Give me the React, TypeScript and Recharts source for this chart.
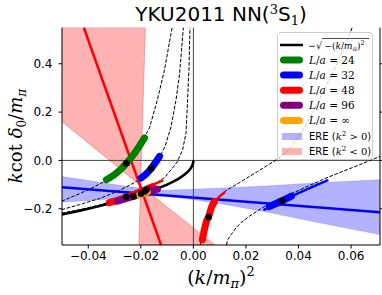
import React from 'react';
import {
  ComposedChart,
  Line,
  Area,
  Scatter,
  XAxis,
  YAxis,
  ReferenceLine,
} from 'recharts';

// -sqrt(-(k/m)^2) bound-state curve
const boundCurve: [number, number][] = [
  [-0.05, -0.224], [-0.045, -0.212], [-0.04, -0.2], [-0.035, -0.187],
  [-0.03, -0.173], [-0.025, -0.158], [-0.02, -0.141], [-0.015, -0.122],
  [-0.01, -0.1], [-0.007, -0.084], [-0.005, -0.071], [-0.003, -0.055],
  [-0.002, -0.045], [-0.001, -0.032], [-0.0004, -0.02], [-0.0001, -0.01], [0, 0],
];

// finite volume (Luscher) curves, dashed
const luscher24: [number, number][] = [
  [-0.0502, -0.169], [-0.0434, -0.138], [-0.0377, -0.109], [-0.032, -0.076],
  [-0.0282, -0.038], [-0.0255, -0.012], [-0.0225, 0.028], [-0.0198, 0.073],
  [-0.0167, 0.135], [-0.0137, 0.251], [-0.011, 0.375], [-0.0081, 0.55],
];
const luscher32: [number, number][] = [
  [-0.0502, -0.204], [-0.0434, -0.183], [-0.0358, -0.158], [-0.0282, -0.125],
  [-0.0225, -0.092], [-0.0198, -0.074], [-0.0164, -0.034], [-0.0129, 0.012],
  [-0.0107, 0.061], [-0.0085, 0.14], [-0.0066, 0.251], [-0.0053, 0.354], [-0.0038, 0.55],
];
const luscher48: [number, number][] = [
  [-0.0502, -0.218], [-0.0434, -0.204], [-0.0358, -0.185], [-0.0282, -0.16],
  [-0.0206, -0.129], [-0.0148, -0.1], [-0.011, -0.071], [-0.0084, -0.038],
  [-0.0061, -0.005], [-0.0041, 0.044], [-0.0028, 0.114], [-0.0022, 0.251],
  [-0.0017, 0.375], [-0.0013, 0.55],
];
const luscher48Pos: [number, number][] = [
  [0.00266, -0.348], [0.00342, -0.319], [0.00495, -0.253], [0.00685, -0.195],
  [0.00913, -0.162], [0.0118, -0.129], [0.0175, -0.092], [0.0244, -0.046],
  [0.0316, 0.003], [0.0365, 0.044], [0.0422, 0.135], [0.0479, 0.251],
  [0.0536, 0.375], [0.0594, 0.519], [0.0605, 0.552],
];
const luscher32Pos: [number, number][] = [
  [0.01256, -0.35], [0.01305, -0.328], [0.01435, -0.307], [0.01625, -0.278],
  [0.01815, -0.257], [0.0213, -0.231], [0.02637, -0.195], [0.03147, -0.165],
  [0.03779, -0.135], [0.0505, -0.073], [0.06317, -0.018], [0.06952, 0.01], [0.0712, 0.017],
];

// effective range expansion fits
const ereLine: [number, number][] = [[-0.05, -0.111], [0.071, -0.215]];
const ereBand: [number, number, number][] = [
  [-0.05, -0.173, -0.067], [-0.0358, -0.163, -0.09], [-0.0244, -0.152, -0.109],
  [-0.0167, -0.146, -0.119], [-0.011, -0.148, -0.123], [0, -0.162, -0.119],
  [0.0137, -0.185, -0.113], [0.0289, -0.216, -0.105], [0.0479, -0.258, -0.092],
  [0.071, -0.307, -0.08],
];
const ereNegLine: [number, number][] = [[-0.0417, 0.55], [-0.0123, -0.35]];
const ereNegUpper: [number, number, number][] = [
  [-0.05, 0.16, 0.55], [-0.0201, -0.105, 0.55], [-0.01826, 0.55, 0.55],
];
const ereNegLower: [number, number, number][] = [
  [-0.0208, -0.35, -0.35], [-0.0201, -0.35, -0.105], [0.0083, -0.35, -0.35],
];

// lattice results (thick = stat, thin = total)
const l24Band: [number, number][] = [
  [-0.0331, -0.08], [-0.0301, -0.059], [-0.0274, -0.034], [-0.0255, -0.012],
  [-0.0225, 0.028], [-0.0186, 0.093],
];
const l32Band: [number, number][] = [
  [-0.0199, -0.073], [-0.0179, -0.055], [-0.0161, -0.034], [-0.0145, -0.01], [-0.0129, 0.017],
];
const l32PosBand: [number, number][] = [[0.0289, -0.191], [0.0338, -0.167], [0.0373, -0.148]];
const l32PosThin: [number, number][] = [[0.027, -0.204], [0.0338, -0.167], [0.051, -0.083]];
const l48Band: [number, number][] = [[-0.032, -0.175], [-0.0243, -0.148], [-0.0156, -0.109]];
const l48Thin: [number, number][] = [[-0.0205, -0.125], [-0.0118, -0.084]];
const l48PosBand: [number, number][] = [
  [0.00342, -0.328], [0.00419, -0.286], [0.00495, -0.253], [0.00582, -0.233],
  [0.00685, -0.195], [0.00799, -0.171],
];
const l48PosThin: [number, number][] = [[0.00799, -0.171], [0.00989, -0.15], [0.0118, -0.133]];
const l96Band: [number, number][] = [[-0.0289, -0.169], [-0.0137, -0.119]];
const lInfBand: [number, number][] = [[-0.0205, -0.144], [-0.0175, -0.129]];
const centralValues: [number, number][] = [
  [-0.0255, -0.012], [-0.0161, -0.034], [-0.0256, -0.151], [-0.0228, -0.149],
  [-0.0199, -0.138], [-0.0186, -0.129], [-0.0178, -0.121], [0.0058, -0.234],
  [0.0338, -0.167],
];

const xTicks = [-0.04, -0.02, 0, 0.02, 0.04, 0.06];
const yTicks = [-0.2, 0, 0.2, 0.4];

const legendLines = [
  { label: '24', color: 'green' },
  { label: '32', color: 'blue' },
  { label: '48', color: 'red' },
  { label: '96', color: 'purple' },
  { label: '\u221e', color: 'orange' },
];

const pts = (a: [number, number][]) => a.map(([x, y]) => ({ x, y }));
const rng = (a: [number, number, number][]) => a.map(([x, lo, hi]) => ({ x, r: [lo, hi] }));

const fmt = (d: number) => (v: number) =>
  (v < 0 ? '\u2212' : '') + Math.abs(v).toFixed(d);

const tickFont = { fill: '#000', fontSize: 12, fontFamily: 'DejaVu Sans' };
const serif = 'DejaVu Serif';

const Overlay = () => (
  <svg
    width={382}
    height={295}
    style={{ position: 'absolute', left: 0, top: 0, pointerEvents: 'none' }}
  >
    <text x={221} y={21} textAnchor="middle" fontFamily="DejaVu Sans" fontSize={20}>
      YKU2011 NN(<tspan dy={-7} fontSize={13} fontFamily={serif}>3</tspan>
      <tspan dy={7}>S</tspan>
      <tspan dy={4} fontSize={13} fontFamily={serif}>1</tspan>
      <tspan dy={-4}>)</tspan>
    </text>
    <text x={221} y={284} textAnchor="middle" fontFamily={serif} fontSize={19}>
      (<tspan fontStyle="italic">k</tspan>/<tspan fontStyle="italic">m</tspan>
      <tspan dy={4} fontSize={13} fontStyle="italic">π</tspan>
      <tspan dy={-4}>)</tspan>
      <tspan dy={-8} fontSize={13}>2</tspan>
    </text>
    <text
      transform="translate(22,136) rotate(-90)"
      textAnchor="middle"
      fontFamily={serif}
      fontSize={18}
    >
      <tspan fontStyle="italic">k</tspan>cot <tspan fontStyle="italic">δ</tspan>
      <tspan dy={4} fontSize={12}>0</tspan>
      <tspan dy={-4}>/</tspan>
      <tspan fontStyle="italic">m</tspan>
      <tspan dy={4} fontSize={12} fontStyle="italic">π</tspan>
    </text>

    {/* legend */}
    <rect x={277.5} y={32.5} width={95} height={127} rx={3} fill="#fff" fillOpacity={0.8} stroke="#ccc" />
    <line x1={280} x2={303} y1={45} y2={45} stroke="#000" strokeWidth={2.5} />
    <text x={308} y={48.5} fontFamily={serif} fontSize={9.5}>−√</text>
    <line x1={322} x2={369} y1={38.5} y2={38.5} stroke="#000" strokeWidth={0.7} />
    <text x={324.5} y={48.5} fontFamily={serif} fontSize={9}>
      −(<tspan fontStyle="italic">k</tspan>/<tspan fontStyle="italic">m</tspan>
      <tspan dy={2.5} fontSize={6.5} fontStyle="italic">π</tspan>
      <tspan dy={-2.5}>)</tspan>
      <tspan dy={-4} fontSize={6.5}>2</tspan>
    </text>
    {legendLines.map((d, i) => {
      const y = 60 + i * 15.1;
      return (
        <g key={d.label}>
          <line x1={283.5} x2={299.5} y1={y} y2={y} stroke={d.color} strokeWidth={7} strokeLinecap="round" />
          <text x={309} y={y + 3.5} fontFamily={serif} fontSize={10.5}>
            <tspan fontStyle="italic">L</tspan>/<tspan fontStyle="italic">a</tspan> = {d.label}
          </text>
        </g>
      );
    })}
    <rect x={282} y={133} width={20} height={7} fill="blue" fillOpacity={0.3} />
    <text x={309} y={140} fontFamily="DejaVu Sans" fontSize={10}>
      ERE (<tspan fontFamily={serif} fontStyle="italic">k</tspan>
      <tspan dy={-4} fontSize={7} fontFamily={serif}>2</tspan>
      <tspan dy={4} fontFamily={serif}> &gt; 0</tspan>)
    </text>
    <rect x={282} y={148} width={20} height={7} fill="red" fillOpacity={0.3} />
    <text x={309} y={155} fontFamily="DejaVu Sans" fontSize={10}>
      ERE (<tspan fontFamily={serif} fontStyle="italic">k</tspan>
      <tspan dy={-4} fontSize={7} fontFamily={serif}>2</tspan>
      <tspan dy={4} fontFamily={serif}> &lt; 0</tspan>)
    </text>
  </svg>
);

const dashed = (d: [number, number][], key: string) => (
  <Line
    key={key}
    data={pts(d)}
    dataKey="y"
    type="linear"
    stroke="#000"
    strokeWidth={1}
    strokeDasharray="3.7 1.6"
    dot={false}
    isAnimationActive={false}
  />
);

const band = (d: [number, number][], color: string, w: number, key: string) => (
  <Line
    key={key}
    data={pts(d)}
    dataKey="y"
    type="monotone"
    stroke={color}
    strokeWidth={w}
    strokeLinecap="round"
    dot={false}
    isAnimationActive={false}
  />
);

const App = () => {
  return (
    <div style={{ position: 'absolute', left: 0, top: 0, width: 382, height: 295 }}>
      <ComposedChart width={382} height={295} margin={{ top: 27.5, right: 0, bottom: 0, left: 0 }}>
        <XAxis
          dataKey="x"
          type="number"
          domain={[-0.05, 0.071]}
          allowDataOverflow
          ticks={xTicks}
          tickFormatter={fmt(2)}
          tickSize={3.5}
          tickMargin={3}
          height={50}
          stroke="#000"
          tick={tickFont}
        />
        <XAxis
          xAxisId="top"
          orientation="top"
          type="number"
          domain={[-0.05, 0.071]}
          allowDataOverflow
          ticks={xTicks}
          tickSize={3.5}
          height={0}
          stroke="#000"
          tick={() => <g />}
        />
        <YAxis
          dataKey="y"
          type="number"
          domain={[-0.35, 0.55]}
          allowDataOverflow
          ticks={yTicks}
          tickFormatter={fmt(1)}
          tickSize={3.5}
          tickMargin={6}
          width={62}
          stroke="#000"
          tick={tickFont}
        />
        <YAxis
          yAxisId="right"
          orientation="right"
          type="number"
          domain={[-0.35, 0.55]}
          allowDataOverflow
          ticks={yTicks}
          tickSize={3.5}
          width={2}
          stroke="#000"
          tick={() => <g />}
        />

        <Area
          data={rng(ereBand)}
          dataKey="r"
          type="linear"
          fill="blue"
          fillOpacity={0.3}
          stroke="blue"
          strokeOpacity={0.25}
          strokeWidth={0.6}
          isAnimationActive={false}
        />
        <Area
          data={rng(ereNegUpper)}
          dataKey="r"
          type="linear"
          fill="red"
          fillOpacity={0.3}
          stroke="#a00"
          strokeOpacity={0.35}
          strokeWidth={0.7}
          isAnimationActive={false}
        />
        <Area
          data={rng(ereNegLower)}
          dataKey="r"
          type="linear"
          fill="red"
          fillOpacity={0.3}
          stroke="#a00"
          strokeOpacity={0.35}
          strokeWidth={0.7}
          isAnimationActive={false}
        />

        <ReferenceLine x={0} stroke="#444" strokeWidth={1} />
        <ReferenceLine y={0} stroke="#444" strokeWidth={1} />

        {dashed(luscher24, 'd24')}
        {dashed(luscher32, 'd32')}
        {dashed(luscher48, 'd48')}
        {dashed(luscher48Pos, 'd48p')}
        {dashed(luscher32Pos, 'd32p')}

        <Line data={pts(boundCurve)} dataKey="y" type="monotone" stroke="#000" strokeWidth={2.6} dot={false} isAnimationActive={false} />
        <Line data={pts(ereLine)} dataKey="y" type="linear" stroke="blue" strokeWidth={2.5} dot={false} isAnimationActive={false} />
        <Line data={pts(ereNegLine)} dataKey="y" type="linear" stroke="red" strokeWidth={2.5} dot={false} isAnimationActive={false} />

        {band(l24Band, 'green', 7, 'b24')}
        {band(l32Band, 'blue', 7, 'b32')}
        {band(l32PosThin, 'blue', 2.5, 'b32pt')}
        {band(l32PosBand, 'blue', 7, 'b32p')}
        {band(l48Thin, 'red', 2.5, 'b48t')}
        {band(l48Band, 'red', 7, 'b48')}
        {band(l48PosThin, 'red', 2.5, 'b48pt')}
        {band(l48PosBand, 'red', 7, 'b48p')}
        {band(l96Band, 'purple', 7, 'b96')}
        {band(lInfBand, 'orange', 7, 'binf')}

        <Scatter
          data={pts(centralValues)}
          dataKey="y"
          fill="#000"
          isAnimationActive={false}
          shape={(p: any) => <circle cx={p.cx} cy={p.cy} r={3.3} fill="#000" />}
        />
      </ComposedChart>
      <Overlay />
    </div>
  );
};

export default App;
